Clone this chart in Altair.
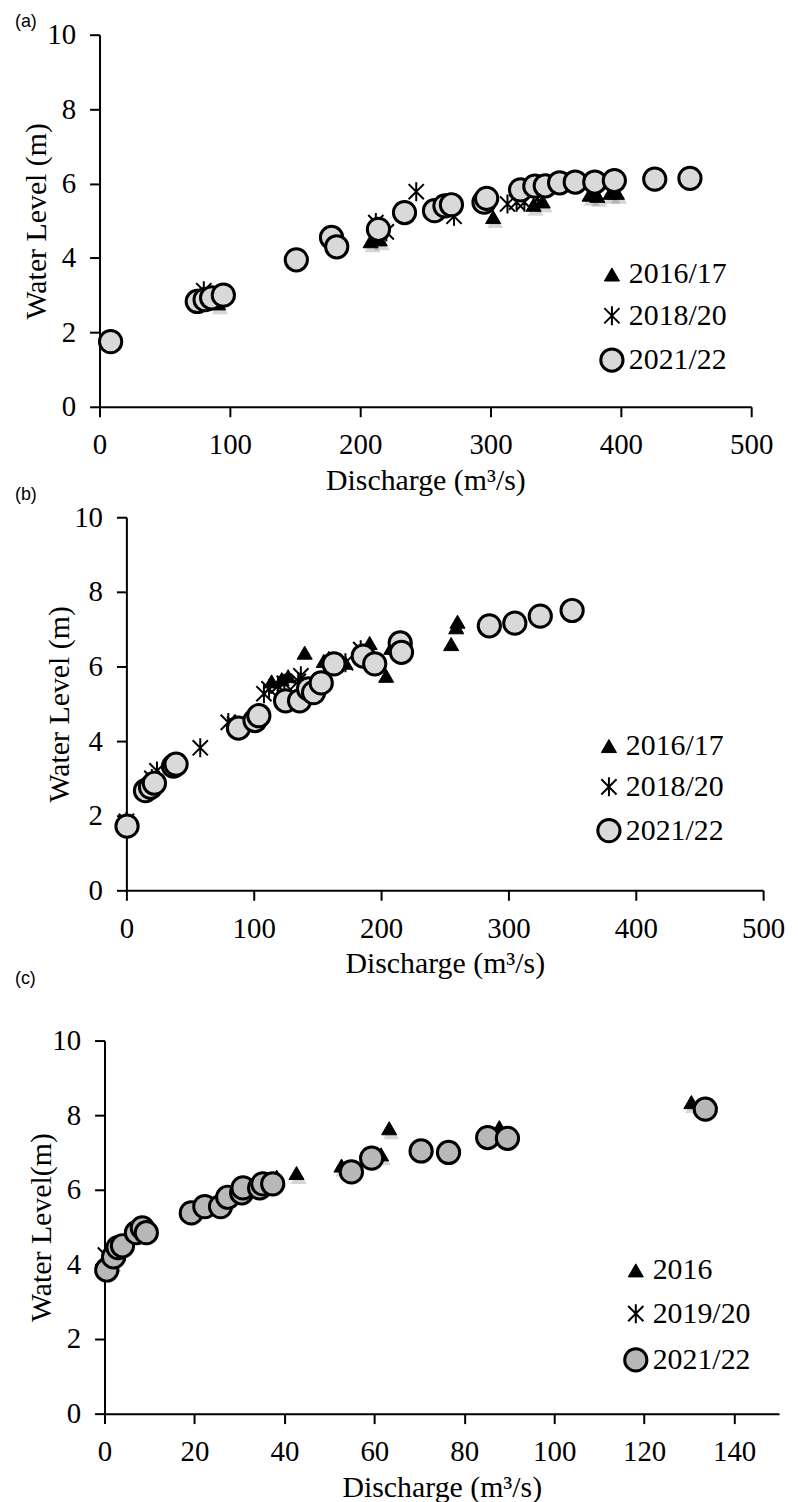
import altair as alt
import pandas as pd

SERIF = "Liberation Serif"
ASTER = "M0,-1L0,1M-0.8,-0.8L0.8,0.8M-0.8,0.8L0.8,-0.8"

# ---------------- Panel (a) ----------------
a_names = ["2016/17", "2018/20", "2021/22"]
a_t_q = [91, 208, 215, 302, 333, 340, 376, 382, 392, 397]
a_t_h = [2.78, 4.45, 4.5, 5.1, 5.43, 5.52, 5.7, 5.67, 5.75, 5.75]
a_x_q = [8, 80, 212, 220, 243, 272, 313, 320, 326, 336]
a_x_h = [1.75, 3.12, 4.95, 4.7, 5.78, 5.12, 5.45, 5.5, 5.5, 5.6]
a_c_q = [8.5, 75, 81, 86, 95, 151, 178, 182, 214, 234, 257, 265, 270, 295, 297,
         323, 334, 342, 353, 365, 380, 395, 426, 453]
a_c_h = [1.75, 2.83, 2.88, 2.93, 3.0, 3.95, 4.55, 4.3, 4.77, 5.22, 5.27, 5.4, 5.43,
         5.5, 5.6, 5.83, 5.93, 5.94, 6.02, 6.04, 6.04, 6.08, 6.12, 6.14]

# ---------------- Panel (b) ----------------
b_names = ["2016/17", "2018/20", "2021/22"]
b_t_q = [0, 114, 122, 127, 140, 155, 159, 172, 191, 204, 208, 255, 259, 260]
b_t_h = [1.85, 5.6, 5.66, 5.74, 6.37, 6.15, 6.23, 6.1, 6.63, 5.75, 6.5, 6.6, 7.05, 7.2]
b_x_q = [0, 20, 24, 58, 80, 85, 108, 112, 119, 124, 135, 137, 162, 172, 184]
b_x_h = [1.85, 3.0, 3.2, 3.82, 4.5, 4.45, 5.27, 5.4, 5.48, 5.55, 5.6, 5.75, 6.1, 6.1, 6.45]
b_c_q = [0.5, 15, 19, 22, 37, 39, 88, 101, 104, 125, 136, 143, 147, 153, 163, 186,
         195, 215, 216, 285, 305, 325, 350]
b_c_h = [1.72, 2.67, 2.76, 2.87, 3.33, 3.38, 4.35, 4.55, 4.68, 5.08, 5.08, 5.4, 5.3,
         5.56, 6.07, 6.28, 6.07, 6.63, 6.38, 7.09, 7.16, 7.35, 7.5]

# ---------------- Panel (c) ----------------
c_names = ["2016", "2019/20", "2021/22"]
c_t_q = [1.5, 38.3, 42.7, 52.7, 61.5, 63.3, 87.8, 130.5]
c_t_h = [4.1, 6.35, 6.45, 6.65, 6.95, 7.65, 7.68, 8.35]
c_x_q = [0.2, 1.5, 3]
c_x_h = [4.25, 4.0, 4.3]
c_c_q = [0.5, 2, 3, 4, 7.1, 8.4, 9.3, 19.3, 22.3, 25.8, 27.4, 30.5, 30.8, 34.5, 35.2,
         37.4, 54.9, 59.4, 70.4, 76.5, 85.2, 89.6, 133.6]
c_c_h = [3.85, 4.2, 4.45, 4.5, 4.85, 4.98, 4.85, 5.38, 5.55, 5.55, 5.8, 5.92, 6.05,
         6.05, 6.16, 6.16, 6.48, 6.85, 7.04, 7.0, 7.4, 7.38, 8.16]

y_ticks = [0, 2, 4, 6, 8, 10]
SHAPES = ["triangle-up", ASTER, "circle"]
SIZES = [230, 500, 270]


def panel(names, qs, hs, circle_fill, xmax, xticks, width, height, ytitle,
          label, label_x, label_y, legend_x, legend_y, row_pad, ytitle_x, shadow):
    rows = []
    for n, ql, hl in zip(names, qs, hs):
        for q, h in zip(ql, hl):
            rows.append({"Q": q, "H": h, "series": n})
    df = pd.DataFrame(rows)
    xenc = alt.X("Q:Q", scale=alt.Scale(domain=[0, xmax], nice=False),
                 axis=alt.Axis(values=xticks, title="Discharge (m³/s)",
                               labelFont=SERIF, titleFont=SERIF))
    yenc = alt.Y("H:Q", scale=alt.Scale(domain=[0, 10], nice=False),
                 axis=alt.Axis(values=y_ticks, title=ytitle, titleX=ytitle_x,
                               labelFont=SERIF, titleFont=SERIF))
    leg = alt.Legend(title=None, orient="none", legendX=legend_x, legendY=legend_y,
                     labelFont=SERIF, labelFontSize=30, labelColor="black",
                     rowPadding=row_pad, padding=0, labelOffset=2)
    layers = []
    if shadow:
        for n, shp, sz in zip(names, SHAPES, SIZES):
            if shp == ASTER:
                continue
            layers.append(
                alt.Chart(df).transform_filter(alt.datum.series == n).mark_point(
                    shape=shp, size=sz * 1.15, filled=True, fill="black",
                    fillOpacity=0.16, strokeOpacity=0, xOffset=2, yOffset=4
                ).encode(x=xenc, y=yenc)
            )
    pts = alt.Chart(df).mark_point(opacity=1).encode(
        x=xenc, y=yenc,
        shape=alt.Shape("series:N", scale=alt.Scale(domain=names, range=SHAPES),
                        legend=leg),
        fill=alt.Fill("series:N", scale=alt.Scale(domain=names,
                      range=["black", "transparent", circle_fill]), legend=leg),
        stroke=alt.Stroke("series:N", scale=alt.Scale(domain=names,
                          range=["black", "black", "black"]), legend=leg),
        size=alt.Size("series:N", scale=alt.Scale(domain=names, range=SIZES),
                      legend=leg),
        strokeWidth=alt.StrokeWidth("series:N", scale=alt.Scale(domain=names,
                                    range=[1, 3, 2]), legend=leg),
    )
    layers.append(pts)
    lab = alt.Chart(pd.DataFrame({"t": [label]})).mark_text(
        align="left", baseline="middle", font="Liberation Sans", fontSize=18,
        color="black"
    ).encode(text="t:N", x=alt.value(label_x), y=alt.value(label_y))
    layers.append(lab)
    return alt.layer(*layers).properties(width=width, height=height)


def spacer(w):
    return alt.Chart(pd.DataFrame({"t": [""]})).mark_text().encode(
        text="t:N").properties(width=w, height=10)


pa = panel(a_names, [a_t_q, a_x_q, a_c_q], [a_t_h, a_x_h, a_c_h], "#d9d9d9",
           500, [0, 100, 200, 300, 400, 500], 655, 374, "Water Level (m)",
           "(a)", -85, -13, 500, 226, 11.5, -48, True)
pb = panel(b_names, [b_t_q, b_x_q, b_c_q], [b_t_h, b_x_h, b_c_h], "#d9d9d9",
           500, [0, 100, 200, 300, 400, 500], 640, 375, "Water Level (m)",
           "(b)", -112, -22, 470, 215, 11, -52, False)
pc = panel(c_names, [c_t_q, c_x_q, c_c_q], [c_t_h, c_x_h, c_c_h], "#b8b8b8",
           150, [0, 20, 40, 60, 80, 100, 120, 140], 678, 375, "Water Level(m)",
           "(c)", -90, -62, 519, 216, 13.5, -48, True)

RS = dict(x="independent", y="independent", shape="independent", fill="independent",
          stroke="independent", size="independent", strokeWidth="independent")
RL = dict(shape="independent", fill="independent", stroke="independent",
          size="independent", strokeWidth="independent")

row_b = alt.hconcat(spacer(27), pb, spacing=0, bounds="flush").resolve_scale(**RS)
row_c = alt.hconcat(spacer(5), pc, spacing=0, bounds="flush").resolve_scale(**RS)

chart = alt.vconcat(pa, row_b, row_c, spacing=-9).resolve_scale(
    **RS).resolve_legend(**RL).properties(
    padding={"left": 7, "top": 1, "right": 5, "bottom": 0}
).configure_axis(
    domainColor="black", domainWidth=2, tickColor="black", tickWidth=2, tickSize=10,
    grid=False, labelFont=SERIF, labelFontSize=29, labelColor="black", labelPadding=14,
    labelFlush=False, labelOverlap=False,
    titleFont=SERIF, titleFontSize=30, titleFontWeight="normal", titleColor="black",
    titlePadding=6
).configure_view(stroke=None)

chart.save("out.html", embed_options={"renderer": "svg", "actions": False})
